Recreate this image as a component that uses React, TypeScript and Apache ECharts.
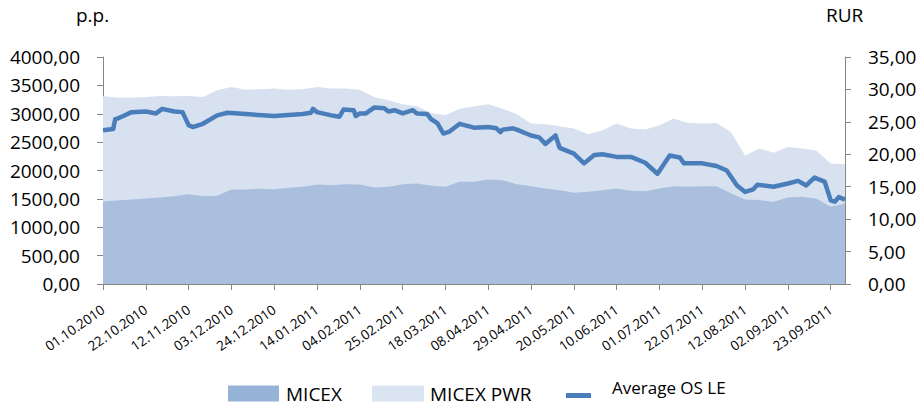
import React, { useEffect, useRef } from "react";
import * as echarts from "echarts";

const FONT = "'Open Sans', 'DejaVu Sans', sans-serif";

// x tick labels every 21 days starting 01.10.2010 (day 0)
const xTickLabels = [
  "01.10.2010", "22.10.2010", "12.11.2010", "03.12.2010", "24.12.2010", "14.01.2011",
  "04.02.2011", "25.02.2011", "18.03.2011", "08.04.2011", "29.04.2011", "20.05.2011",
  "10.06.2011", "01.07.2011", "22.07.2011", "12.08.2011", "02.09.2011", "23.09.2011",
];

// weekly sample days (days since 01.10.2010)
const areaDays = [
  0, 7, 14, 21, 28, 35, 42, 49, 56, 63, 70, 77, 84, 91, 98, 105, 112, 119, 126, 133,
  140, 147, 154, 161, 168, 175, 182, 189, 196, 203, 210, 217, 224, 231, 238, 245, 252,
  259, 266, 273, 280, 287, 294, 301, 308, 315, 322, 329, 336, 343, 350, 357, 364,
];

const micex = [
  1460, 1472, 1490, 1507, 1525, 1548, 1583, 1548, 1554, 1666, 1666, 1677, 1671, 1695,
  1712, 1753, 1742, 1759, 1753, 1700, 1712, 1759, 1771, 1730, 1712, 1800, 1800, 1842,
  1830, 1759, 1724, 1683, 1654, 1607, 1625, 1654, 1683, 1642, 1636, 1683, 1724, 1712,
  1724, 1724, 1600, 1490, 1478, 1449, 1525, 1537, 1501, 1361, 1419,
];

const micexPwr = [
  3308, 3285, 3280, 3296, 3314, 3308, 3314, 3296, 3413, 3472, 3425, 3431, 3443, 3425,
  3431, 3472, 3443, 3443, 3425, 3296, 3237, 3167, 3132, 3015, 2973, 3090, 3132, 3167,
  3090, 2991, 2827, 2815, 2780, 2739, 2639, 2710, 2827, 2739, 2721, 2797, 2915, 2839,
  2827, 2839, 2680, 2263, 2387, 2311, 2416, 2387, 2350, 2123, 2111,
];

const oslDays = [
  0, 5, 6, 7, 10, 14, 21, 26, 29, 35, 39, 42, 44, 49, 56, 61, 70, 84, 98, 102, 103, 105,
  112, 116, 118, 123, 124, 126, 129, 133, 138, 140, 143, 147, 152, 154, 159, 161, 164,
  167, 170, 175, 182, 189, 193, 195, 196, 201, 203, 210, 214, 217, 222, 224, 231, 236,
  241, 245, 252, 259, 266, 272, 278, 283, 285, 294, 301, 306, 311, 315, 319, 321, 329,
  336, 341, 345, 349, 354, 357, 359, 361, 364,
];

const oslValues = [
  23.7, 23.9, 25.4, 25.5, 25.9, 26.5, 26.6, 26.3, 27.0, 26.6, 26.5, 24.5, 24.2, 24.7,
  26.0, 26.4, 26.2, 25.9, 26.2, 26.4, 27.0, 26.5, 26.0, 25.8, 26.9, 26.8, 25.9, 26.3,
  26.3, 27.2, 27.1, 26.6, 26.8, 26.3, 26.8, 26.3, 26.2, 25.4, 24.8, 23.2, 23.5, 24.7,
  24.1, 24.2, 24.0, 23.4, 23.8, 24.0, 23.8, 22.9, 22.6, 21.6, 22.9, 21.0, 20.1, 18.6,
  19.9, 20.0, 19.6, 19.6, 18.7, 17.0, 19.8, 19.5, 18.6, 18.6, 18.2, 17.5, 15.2, 14.2,
  14.6, 15.3, 15.0, 15.5, 15.9, 15.2, 16.4, 15.8, 12.9, 12.7, 13.4, 13.0,
];

const fmt2 = (v: number) => v.toFixed(2).replace(".", ",");

// legend icon for the line: a thin bar at the bottom of a taller box
const LINE_ICON = "path://M0,0L25,0L25,0.01L0,0.01Z M0,16L25,16L25,21L0,21Z";

export default function App() {
  const ref = useRef<HTMLDivElement>(null);
  useEffect(() => {
    if (!ref.current) return;
    const chart = echarts.init(ref.current, null, { renderer: "svg" });
    const axisColor = "#868686";
    chart.setOption({
      animation: false,
      textStyle: { fontFamily: FONT },
      grid: { left: 103, right: 75, top: 57, bottom: 122, containLabel: false },
      xAxis: {
        type: "value",
        min: 0,
        max: 364,
        interval: 21,
        splitLine: { show: false },
        axisLine: { show: true, lineStyle: { color: axisColor, width: 1 } },
        axisTick: { show: true, length: 6, lineStyle: { color: axisColor } },
        axisLabel: {
          rotate: 35,
          margin: 24,
          fontSize: 13.5,
          fontFamily: FONT,
          color: "#000",
          showMaxLabel: false,
          formatter: (v: number) => {
            const i = Math.round(v / 21);
            return v % 21 === 0 && xTickLabels[i] ? xTickLabels[i] : "";
          },
        },
      },
      yAxis: [
        {
          type: "value",
          min: 0,
          max: 4000,
          interval: 500,
          splitLine: { show: false },
          axisLine: { show: true, lineStyle: { color: axisColor } },
          axisTick: { show: true, length: 6, lineStyle: { color: axisColor } },
          axisLabel: { margin: 23, fontSize: 19, fontFamily: FONT, color: "#000", formatter: fmt2 },
        },
        {
          type: "value",
          min: 0,
          max: 35,
          interval: 5,
          position: "right",
          splitLine: { show: false },
          axisLine: { show: true, lineStyle: { color: axisColor } },
          axisTick: { show: true, length: 6, lineStyle: { color: axisColor } },
          axisLabel: { margin: 23, fontSize: 19, fontFamily: FONT, color: "#000", formatter: fmt2 },
        },
      ],
      legend: [
        {
          data: [{ name: "MICEX", icon: "rect", itemStyle: { color: "#95b3d7" } }],
          left: 228,
          top: 384,
          padding: 0,
          itemWidth: 51,
          itemHeight: 16,
          textStyle: { fontSize: 19, lineHeight: 19, fontFamily: FONT, color: "#000", padding: [0, 0, 0, 2] },
        },
        {
          data: [{ name: "MICEX PWR", icon: "rect", itemStyle: { color: "#dbe5f1" } }],
          left: 372,
          top: 384,
          padding: 0,
          itemWidth: 52,
          itemHeight: 16,
          textStyle: { fontSize: 19, lineHeight: 19, fontFamily: FONT, color: "#000", padding: [0, 0, 0, 1] },
        },
        {
          data: [{ name: "Average OS LE", icon: LINE_ICON, itemStyle: { color: "#4a7ebb" } }],
          left: 566,
          top: 377,
          padding: 0,
          itemWidth: 25,
          itemHeight: 21,
          textStyle: { fontSize: 17, fontFamily: FONT, color: "#000", padding: [0, 0, 0, 16] },
        },
      ],
      graphic: [
        { type: "text", left: 76, top: 5, style: { text: "p.p.", fontSize: 19, fontFamily: FONT, fill: "#000" } },
        { type: "text", left: 826, top: 5, style: { text: "RUR", fontSize: 19, fontFamily: FONT, fill: "#000" } },
      ],
      series: [
        {
          name: "MICEX PWR",
          type: "line",
          yAxisIndex: 0,
          data: areaDays.map((d, i) => [d, micexPwr[i]]),
          showSymbol: false,
          symbol: "none",
          lineStyle: { width: 0 },
          itemStyle: { color: "#dbe5f1" },
          areaStyle: { color: "#d7e1f0", opacity: 1 },
          z: 1,
        },
        {
          name: "MICEX",
          type: "line",
          yAxisIndex: 0,
          data: areaDays.map((d, i) => [d, micex[i]]),
          showSymbol: false,
          symbol: "none",
          lineStyle: { width: 0 },
          itemStyle: { color: "#95b3d7" },
          areaStyle: { color: "#aabfdd", opacity: 1 },
          z: 2,
        },
        {
          name: "Average OS LE",
          type: "line",
          yAxisIndex: 1,
          data: oslDays.map((d, i) => [d, oslValues[i]]),
          showSymbol: false,
          symbol: "none",
          lineStyle: { width: 4.5, color: "#4a7ebb", join: "round" },
          itemStyle: { color: "#4a7ebb" },
          z: 3,
        },
      ],
    });
    return () => chart.dispose();
  }, []);
  return (
    <div
      ref={ref}
      style={{ position: "fixed", left: 0, top: 0, width: 920, height: 406, background: "#fff" }}
    />
  );
}
